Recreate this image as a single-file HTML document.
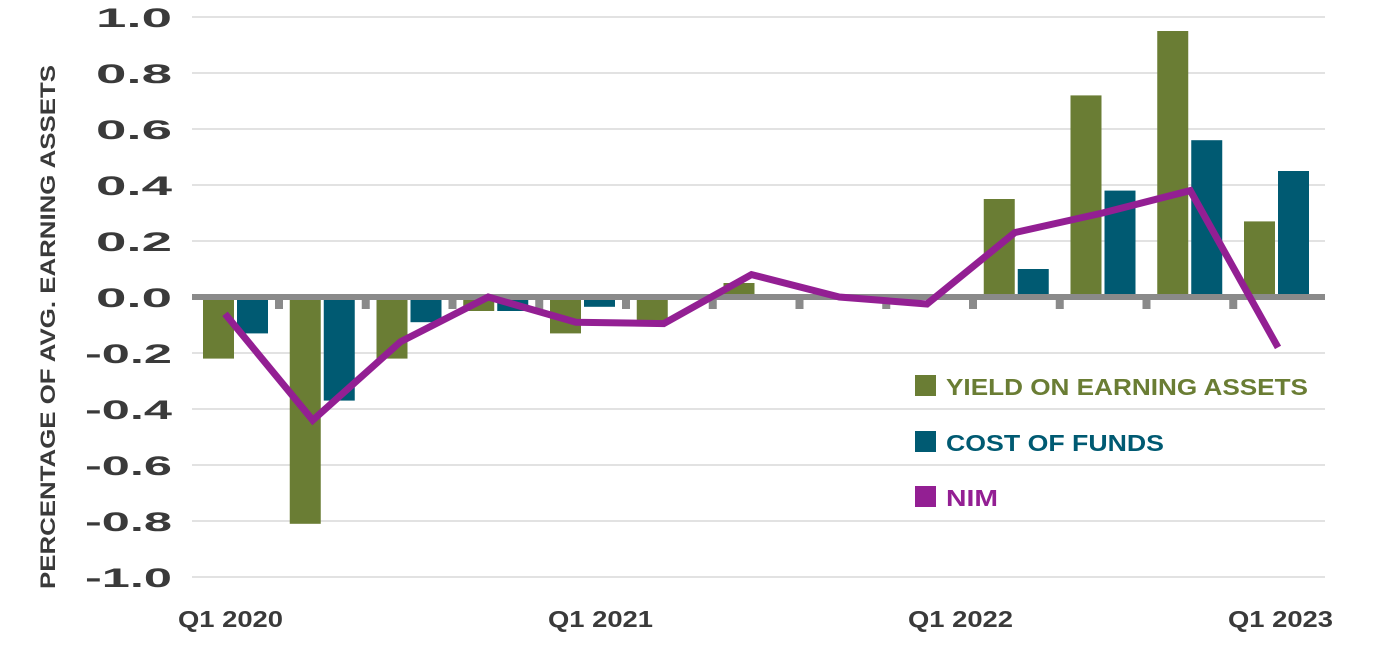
<!DOCTYPE html>
<html><head><meta charset="utf-8"><style>
body{margin:0;background:#fff;}
svg text{font-family:"Liberation Sans",sans-serif;font-weight:bold;}
</style></head><body>
<svg id="chart" width="1380" height="647" xmlns="http://www.w3.org/2000/svg"></svg>
<script>
const categories=["Q1 2020","Q2 2020","Q3 2020","Q4 2020","Q1 2021","Q2 2021","Q3 2021","Q4 2021","Q1 2022","Q2 2022","Q3 2022","Q4 2022","Q1 2023"];
const yieldVals=[-0.22,-0.81,-0.22,-0.05,-0.13,-0.1,0.05,0,0,0.35,0.72,0.95,0.27];
const costVals=[-0.13,-0.37,-0.09,-0.05,-0.035,-0.01,0.005,0,0,0.1,0.38,0.56,0.45];
const nimVals=[-0.06,-0.44,-0.16,0.0,-0.09,-0.095,0.08,0.0,-0.025,0.23,0.30,0.38,-0.18];
const yTicks=[1.0,0.8,0.6,0.4,0.2,0.0,-0.2,-0.4,-0.6,-0.8,-1.0];
const xLabels=[["Q1 2020",0],["Q1 2021",4],["Q1 2022",8],["Q1 2023",12]];
const svg=document.getElementById('chart');
const NS="http://www.w3.org/2000/svg";
const Y=v=>297-v*280;
const step=86.75;
const X=i=>203+i*step;
const XL=i=>225+i*87.75;
function el(t,a){const e=document.createElementNS(NS,t);for(const k in a)e.setAttribute(k,a[k]);svg.appendChild(e);return e;}
yTicks.forEach(v=>{
 if(v!==0){const g=el('line',{x1:192,x2:1325,y1:Y(v),y2:Y(v),stroke:'#e2e2e2','stroke-width':2});
 
 }
 const t=el('text',{x:172,y:Y(v)+10,'text-anchor':'end','font-size':27,fill:'#3a3a3a',textLength:v<0?87:76,lengthAdjust:'spacingAndGlyphs'});
 t.textContent=v.toFixed(1);
 
 
});
categories.forEach((c,i)=>{
 const gv=yieldVals[i],bv=costVals[i];
 const g=el('rect',{x:X(i),y:Math.min(Y(gv),Y(0)),width:31,height:Math.abs(Y(gv)-Y(0)),fill:'#6a7d34'});
 
 
 const b=el('rect',{x:X(i)+34,y:Math.min(Y(bv),Y(0)),width:31,height:Math.abs(Y(bv)-Y(0)),fill:'#005a72'});
 
 
 if(i<12){const tk=el('rect',{x:X(i)+72,y:297,width:8,height:12,fill:'#8a8a8a'});
 
 }
});
const z=el('line',{x1:192,x2:1325,y1:297,y2:297,stroke:'#8a8a8a','stroke-width':6});


const p=el('polyline',{points:nimVals.map((v,i)=>XL(i)+','+Y(v)).join(' '),fill:'none',stroke:'#931f93','stroke-width':7,'stroke-linejoin':'miter'});


const xPos=[230,600,960,1280];
xLabels.forEach(([l,i],k)=>{
 const t=el('text',{x:xPos[k]-52,y:627,'font-size':23,fill:'#3a3a3a',textLength:105,lengthAdjust:'spacingAndGlyphs'});
 t.textContent=l;
 
 
});
const at=el('text',{x:-262,y:0,transform:'translate(55,327) rotate(-90)','font-size':21,fill:'#3a3a3a',textLength:524,lengthAdjust:'spacingAndGlyphs'});
at.textContent='PERCENTAGE OF AVG. EARNING ASSETS';


[["YIELD ON EARNING ASSETS","#6a7d34",386,362],["COST OF FUNDS","#005a72",442,218],["NIM","#931f93",497,52]].forEach(([l,c,y,w])=>{
 const r=el('rect',{x:915,y:y-11,width:21,height:21,fill:c});
 
 
 const t=el('text',{x:946,y:y+9,'font-size':23,fill:c,textLength:w,lengthAdjust:'spacingAndGlyphs'});
 t.textContent=l;
 
 
});
</script>
</body></html>
